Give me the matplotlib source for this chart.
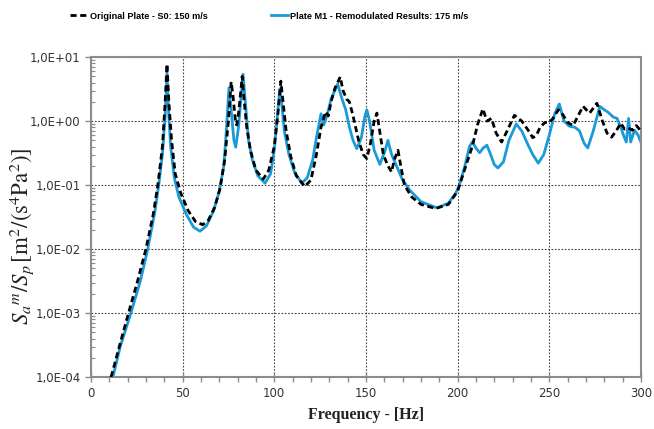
import numpy as np
import matplotlib
matplotlib.use("Agg")
import matplotlib.pyplot as plt
from matplotlib.ticker import FuncFormatter, MultipleLocator, LogLocator, NullFormatter

# --- data (frequency in Hz, Sa/Sp ratio)
freq_s0 = [11, 15.5, 20.5, 25.5, 30, 34, 36.5, 39, 40.5, 41.5, 42.5, 44, 46, 49, 53, 57, 61, 64,
           67.5, 70.5, 73, 75, 76.5, 77.5, 79, 79.6, 80.5, 81.8, 82.5, 83.5, 85, 87, 90, 94, 97,
           100, 102, 103.6, 104.8, 106.5, 109, 112, 116.7, 120, 123, 125.5, 128, 129.5, 131, 133,
           136, 137.5, 139.5, 141, 143, 146, 148.5, 150.5, 152.5, 154.5, 156, 157.5, 159.5, 162,
           164, 165.5, 167.5, 169, 171, 175, 180, 188, 195, 200, 202, 205, 208, 211, 213.8, 216,
           218.5, 221, 224, 227, 231, 235, 238.5, 241, 243, 245, 247.6, 250, 252, 255, 257.5,
           260, 263, 265, 268.4, 272, 276, 279, 281.5, 284, 286.5, 289, 291, 293, 295.5, 297.5, 300]
val_s0 = [1.0e-4, 3.0e-4, 1.0e-3, 3.2e-3, 1.0e-2, 3.5e-2, 1.0e-1, 4e-1, 2.0, 7.8, 2.0, 5e-1, 1.5e-1,
          7.5e-2, 4.0e-2, 2.7e-2, 2.4e-2, 2.8e-2, 4.5e-2, 9e-2, 2.5e-1, 1.0, 4.1, 2.5, 0.9, 0.87,
          1.3, 3.0, 5.0, 2.2, 0.8, 0.35, 0.17, 0.124, 0.17, 0.4, 1.3, 4.2, 2.0, 0.7, 0.28, 0.14,
          0.095, 0.12, 0.3, 0.8, 1.4, 1.2, 2.0, 3.2, 4.9, 3.0, 2.2, 2.0, 1.2, 0.5, 0.3, 0.26, 0.45,
          1.0, 1.33, 0.7, 0.3, 0.2, 0.16, 0.25, 0.35, 0.2, 0.1, 0.065, 0.05, 0.043, 0.05, 0.08,
          0.12, 0.22, 0.4, 0.9, 1.55, 1.0, 1.1, 0.65, 0.47, 0.7, 1.23, 1.0, 0.72, 0.55, 0.6, 0.8,
          0.95, 0.95, 1.1, 1.5, 1.25, 0.95, 0.85, 1.1, 1.7, 1.33, 1.9, 1.0, 0.65, 0.56, 0.7, 0.93,
          0.75, 0.78, 0.72, 0.85, 0.7]

freq_m1 = [12, 16, 21.8, 27, 31, 35, 37, 39, 40.5, 41.5, 42.3, 43.5, 45.5, 48, 52, 56, 59.5, 63,
           67, 70, 72.5, 74, 75.3, 76.5, 78, 79, 80.5, 82, 83, 84.2, 86, 88, 91, 95, 98, 100,
           101.5, 103, 104, 105.5, 108, 111, 115, 118, 121, 123, 125.5, 127, 129, 131, 134.6,
           137, 139, 141, 143, 145, 147.5, 149.5, 150.5, 152, 154.5, 157.6, 160.5, 162, 164, 167,
           170, 174, 180, 188.7, 195, 199, 201, 204, 206.5, 208, 210, 212, 214, 216, 218, 220,
           222, 225, 228, 232, 235, 238.5, 241, 244, 247, 250, 253, 255.5, 258, 261, 264, 266.5,
           269, 271, 274, 277.6, 280, 282, 285, 287, 289, 290.5, 292, 293.3, 294.4, 296.5, 298.5, 300]
val_m1 = [1.0e-4, 3.0e-4, 1.0e-3, 3.2e-3, 1.0e-2, 4.0e-2, 1.0e-1, 3e-1, 1.2, 5.8, 1.5, 4e-1, 1.3e-1,
          6.5e-2, 3.5e-2, 2.2e-2, 1.9e-2, 2.3e-2, 4.0e-2, 8e-2, 2.0e-1, 8e-1, 3.3, 1.5, 0.5, 0.39,
          0.8, 2.5, 5.4, 2.0, 0.5, 0.25, 0.14, 0.107, 0.15, 0.35, 1.0, 3.2, 2.0, 0.7, 0.3, 0.16,
          0.107, 0.13, 0.25, 0.55, 1.3, 0.87, 1.3, 2.2, 3.8, 2.2, 1.5, 0.8, 0.5, 0.37, 0.55, 1.2,
          1.5, 1.0, 0.35, 0.21, 0.35, 0.5, 0.3, 0.19, 0.12, 0.083, 0.055, 0.044, 0.052, 0.075, 0.1,
          0.2, 0.4, 0.47, 0.38, 0.32, 0.38, 0.42, 0.3, 0.21, 0.185, 0.23, 0.5, 0.9, 0.7, 0.42, 0.3,
          0.22, 0.3, 0.6, 1.3, 1.85, 1.0, 0.83, 0.8, 0.7, 0.45, 0.38, 0.7, 1.7, 1.5, 1.38, 1.15,
          1.1, 0.8, 0.6, 0.47, 1.1, 0.47, 0.72, 0.6, 0.47]

label_s0 = "Original Plate - S0: 150 m/s"
label_m1 = "Plate M1 - Remodulated Results: 175 m/s"

plt.rcParams['mathtext.fontset'] = 'stix'

fig = plt.figure(figsize=(6.54, 4.29), dpi=100)
ax = fig.add_axes([0.139, 0.121, 0.841, 0.746])

ax.plot(freq_s0, val_s0, color='black', lw=2.0, ls=(0, (2.2, 1.3)), label=label_s0, zorder=3)
ax.plot(freq_m1, val_m1, color='#1b9ad8', lw=2.0, label=label_m1, zorder=2)

ax.set_yscale('log')
ax.set_xlim(0, 300)
ax.set_ylim(1e-4, 1e1)

ax.xaxis.set_major_locator(MultipleLocator(50))
ax.xaxis.set_minor_locator(MultipleLocator(10))
ax.yaxis.set_major_locator(LogLocator(base=10, numticks=10))
ax.yaxis.set_minor_locator(LogLocator(base=10, subs=np.arange(2, 10), numticks=20))
ax.yaxis.set_minor_formatter(NullFormatter())


def sci_comma(v, pos):
    e = int(round(np.log10(v)))
    return "1,0E%s%02d" % ('+' if e >= 0 else '-', abs(e))


ax.yaxis.set_major_formatter(FuncFormatter(sci_comma))

ax.grid(True, which='major', ls=(0, (1.5, 1.5)), color='#444444', lw=0.8)
for s in ax.spines.values():
    s.set_color('#8c8c8c')
    s.set_linewidth(1.5)

ax.tick_params(axis='both', which='major', labelsize=8.5, colors='#8c8c8c', labelcolor='#333333')
ax.tick_params(axis='x', which='major', direction='inout', length=7, width=1)
ax.tick_params(axis='x', which='minor', direction='out', length=3.5, width=1, colors='#8c8c8c')
ax.tick_params(axis='y', which='major', direction='out', length=4, width=1)
ax.tick_params(axis='y', which='minor', direction='in', length=3, width=0.8, colors='#8c8c8c')

ax.set_xlabel('Frequency - [Hz]', fontsize=11.5, fontweight='bold',
              family=['Liberation Serif', 'DejaVu Serif'], labelpad=5, color='#222222')
ax.set_ylabel(r'$S_a{}^{m}/S_p\,[\mathrm{m}^2/(\mathrm{s}^4\mathrm{Pa}^2)]$', fontsize=16.5,
              color='#222222')
ax.yaxis.set_label_coords(-0.1, 0.44)

ax.legend(loc='center left', bbox_to_anchor=(-0.045, 1.128), ncol=2, frameon=False,
          prop={'size': 6.6, 'weight': 'bold', 'family': ['Liberation Sans', 'DejaVu Sans']},
          handlelength=1.95, handletextpad=0.2, columnspacing=6.9, borderaxespad=0)

fig.savefig('out.png', dpi=100)
